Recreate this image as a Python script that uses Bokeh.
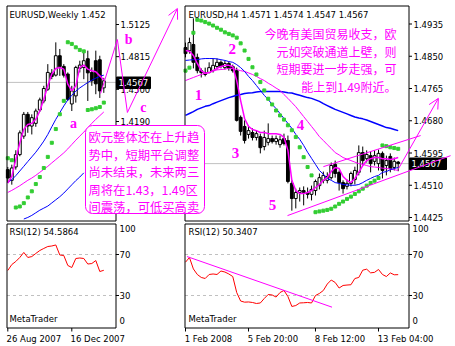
from bokeh.plotting import figure
from bokeh.models import Range1d, Arrow, OpenHead
from bokeh.core.properties import value
from bokeh.embed import file_html
from bokeh.resources import INLINE

W, H = 455, 346

# ------------------------------------------------------------------ data
last_price = 1.4567

# weekly EURUSD (26 Aug 2007 .. 10 Feb 2008)
wk_tick_idx = [0, 16]
wk_tick_labels = ["26 Aug 2007", "16 Dec 2007"]
wk_open = [1.3726, 1.3623, 1.3752, 1.3871, 1.4049, 1.4259, 1.4146, 1.4172, 1.4301, 1.4388,
           1.4501, 1.4656, 1.4637, 1.4824, 1.4721, 1.4647, 1.4359, 1.4437, 1.4702, 1.4711,
           1.4795, 1.4663, 1.4776, 1.4785, 1.4514]
wk_high = [1.3752, 1.3774, 1.3913, 1.4104, 1.4282, 1.4282, 1.4259, 1.4314, 1.4420, 1.4534,
           1.4743, 1.4695, 1.4953, 1.4889, 1.4743, 1.4663, 1.4534, 1.4727, 1.4776, 1.4857,
           1.4873, 1.4711, 1.4873, 1.4824, 1.4611]
wk_low = [1.3597, 1.3581, 1.3726, 1.3855, 1.4023, 1.4081, 1.4065, 1.4139, 1.4282, 1.4366,
          1.4485, 1.4598, 1.4624, 1.4630, 1.4614, 1.4388, 1.4291, 1.4372, 1.4663, 1.4598,
          1.4388, 1.4534, 1.4453, 1.4417, 1.4466]
wk_close = [1.3645, 1.3742, 1.3871, 1.4081, 1.4259, 1.4146, 1.4227, 1.4291, 1.4398, 1.4508,
            1.4663, 1.4624, 1.4824, 1.4721, 1.4637, 1.4404, 1.4485, 1.4711, 1.4734, 1.4776,
            1.4659, 1.4582, 1.4553, 1.4485, 1.4582]
wk_ma_fast = [1.3597, 1.3661, 1.3823, 1.3984, 1.4114, 1.4162, 1.4172, 1.4211, 1.4291, 1.4404,
              1.4534, 1.4647, 1.4701, 1.4711, 1.4695, 1.4550, 1.4485, 1.4534, 1.4711, 1.4734,
              1.4695, 1.4679, 1.4669, 1.4630, 1.4590]
wk_ma_mid = [1.3603, 1.3629, 1.3668, 1.3713, 1.3758, 1.3804, 1.3849, 1.3894, 1.3946, 1.4001,
             1.4065, 1.4139, 1.4211, 1.4275, 1.4340, 1.4398, 1.4443, 1.4482, 1.4514, 1.4540,
             1.4566, 1.4588, 1.4608, 1.4624, 1.4637]
wk_ma_slow = [1.3506, 1.3526, 1.3548, 1.3571, 1.3597, 1.3623, 1.3645, 1.3671, 1.3700, 1.3729,
              1.3758, 1.3791, 1.3823, 1.3855, 1.3888, 1.3926, 1.3968, 1.4010, 1.4049, 1.4088,
              1.4130, 1.4172, 1.4211, 1.4246, 1.4282]
wk_ma_long_idx = [4, 5, 6, 7, 8, 9, 10, 11, 12, 13, 14, 15, 16, 17, 18, 19]
wk_ma_long = [1.3250, 1.3265, 1.3285, 1.3310, 1.3335, 1.3355, 1.3375, 1.3405, 1.3435, 1.3465,
              1.3500, 1.3540, 1.3580, 1.3620, 1.3655, 1.3695]
wk_sar = [1.3836, 1.3817, 1.3361, 1.3371, 1.3403, 1.3458, 1.3517, 1.3587, 1.3655, 1.3742,
          1.3849, 1.3985, 1.4117, 1.4260, 1.4389, 1.4954, 1.4938, 1.4905, 1.4880, 1.4866,
          1.4301, 1.4308, 1.4318, 1.4330, 1.4372]
wk_rsi = [54.4, 60.2, 63.2, 67.1, 72.0, 67.1, 68.0, 71.0, 73.9, 75.9,
          77.8, 78.3, 79.3, 69.5, 69.0, 59.3, 57.3, 66.1, 66.6, 66.1,
          60.7, 61.2, 64.1, 53.4, 54.59]
wk_price_ticks = [1.5125, 1.4815, 1.4500, 1.4190]
wk_price_labels = ["1.5125", "1.4815", "1.4500", "1.4190"]

# H4 EURUSD (1 Feb 2008 .. 13 Feb 2008)
h4_tick_idx = [0, 16, 33, 49]
h4_tick_labels = ["1 Feb 2008", "5 Feb 20:00", "8 Feb 12:00", "13 Feb 04:00"]
h4_open = [1.4873, 1.4865, 1.4881, 1.4847, 1.4812, 1.4807, 1.4807, 1.4812, 1.4823, 1.4834,
           1.4820, 1.4831, 1.4823, 1.4812, 1.4689, 1.4665, 1.4644, 1.4649, 1.4636, 1.4638,
           1.4612, 1.4623, 1.4633, 1.4625, 1.4617, 1.4633, 1.4628, 1.4515, 1.4475, 1.4491,
           1.4496, 1.4491, 1.4486, 1.4496, 1.4509, 1.4523, 1.4523, 1.4530, 1.4565, 1.4544,
           1.4517, 1.4507, 1.4515, 1.4525, 1.4544, 1.4596, 1.4580, 1.4588, 1.4573, 1.4567,
           1.4594, 1.4562, 1.4586, 1.4557, 1.4571]
h4_high = [1.4886, 1.4899, 1.4950, 1.4857, 1.4818, 1.4820, 1.4834, 1.4844, 1.4844, 1.4839,
           1.4839, 1.4836, 1.4828, 1.4820, 1.4694, 1.4681, 1.4667, 1.4660, 1.4654, 1.4646,
           1.4654, 1.4673, 1.4641, 1.4641, 1.4641, 1.4646, 1.4641, 1.4523, 1.4501, 1.4504,
           1.4507, 1.4504, 1.4509, 1.4525, 1.4541, 1.4546, 1.4544, 1.4570, 1.4575, 1.4549,
           1.4523, 1.4525, 1.4546, 1.4559, 1.4615, 1.4612, 1.4602, 1.4599, 1.4602, 1.4604,
           1.4599, 1.4588, 1.4594, 1.4583, 1.4574]
h4_low = [1.4847, 1.4857, 1.4818, 1.4805, 1.4794, 1.4797, 1.4805, 1.4807, 1.4815, 1.4818,
          1.4815, 1.4812, 1.4807, 1.4678, 1.4641, 1.4620, 1.4633, 1.4628, 1.4628, 1.4594,
          1.4602, 1.4615, 1.4620, 1.4617, 1.4609, 1.4615, 1.4515, 1.4443, 1.4449, 1.4467,
          1.4457, 1.4475, 1.4470, 1.4483, 1.4499, 1.4515, 1.4515, 1.4525, 1.4530, 1.4496,
          1.4488, 1.4499, 1.4507, 1.4512, 1.4536, 1.4562, 1.4570, 1.4544, 1.4562, 1.4549,
          1.4528, 1.4536, 1.4544, 1.4549, 1.4547]
h4_close = [1.4857, 1.4886, 1.4834, 1.4812, 1.4807, 1.4802, 1.4820, 1.4826, 1.4834, 1.4823,
            1.4831, 1.4818, 1.4812, 1.4681, 1.4652, 1.4628, 1.4654, 1.4636, 1.4646, 1.4609,
            1.4636, 1.4633, 1.4625, 1.4633, 1.4630, 1.4620, 1.4520, 1.4475, 1.4491, 1.4496,
            1.4491, 1.4486, 1.4499, 1.4520, 1.4530, 1.4536, 1.4533, 1.4562, 1.4541, 1.4517,
            1.4501, 1.4515, 1.4541, 1.4549, 1.4596, 1.4575, 1.4591, 1.4567, 1.4588, 1.4594,
            1.4549, 1.4575, 1.4554, 1.4573, 1.4567]
h4_ma_fast = [1.4865, 1.4863, 1.4852, 1.4831, 1.4812, 1.4805, 1.4807, 1.4812, 1.4818, 1.4823,
              1.4826, 1.4826, 1.4823, 1.4786, 1.4733, 1.4686, 1.4665, 1.4657, 1.4654, 1.4649,
              1.4649, 1.4646, 1.4646, 1.4646, 1.4644, 1.4636, 1.4602, 1.4523, 1.4496, 1.4488,
              1.4488, 1.4491, 1.4496, 1.4504, 1.4512, 1.4523, 1.4531, 1.4546, 1.4557, 1.4554,
              1.4533, 1.4523, 1.4517, 1.4528, 1.4544, 1.4562, 1.4575, 1.4580, 1.4583, 1.4583,
              1.4580, 1.4580, 1.4578, 1.4580, 1.4583]
h4_ma_mid = [1.4839, 1.4840, 1.4841, 1.4841, 1.4843, 1.4844, 1.4844, 1.4844, 1.4843, 1.4841,
             1.4839, 1.4836, 1.4834, 1.4828, 1.4820, 1.4810, 1.4797, 1.4786, 1.4773, 1.4760,
             1.4747, 1.4736, 1.4723, 1.4712, 1.4699, 1.4686, 1.4673, 1.4660, 1.4644, 1.4631,
             1.4615, 1.4597, 1.4581, 1.4565, 1.4549, 1.4539, 1.4528, 1.4523, 1.4517, 1.4515,
             1.4512, 1.4511, 1.4510, 1.4510, 1.4512, 1.4517, 1.4523, 1.4528, 1.4533, 1.4536,
             1.4544, 1.4546, 1.4551, 1.4554, 1.4557]
h4_ma_long = [1.4694, 1.4699, 1.4704, 1.4710, 1.4714, 1.4718, 1.4720, 1.4725, 1.4729, 1.4733,
              1.4737, 1.4741, 1.4744, 1.4747, 1.4749, 1.4752, 1.4753, 1.4754, 1.4756, 1.4757,
              1.4757, 1.4757, 1.4757, 1.4757, 1.4757, 1.4756, 1.4754, 1.4753, 1.4750, 1.4747,
              1.4744, 1.4741, 1.4739, 1.4735, 1.4731, 1.4725, 1.4720, 1.4715, 1.4710, 1.4706,
              1.4702, 1.4698, 1.4694, 1.4690, 1.4687, 1.4685, 1.4682, 1.4678, 1.4674, 1.4670,
              1.4666, 1.4662, 1.4660, 1.4657, 1.4654]
h4_ma_slow = [1.4786, 1.4790, 1.4794, 1.4798, 1.4802, 1.4805, 1.4807, 1.4811, 1.4814, 1.4815,
              1.4816, 1.4818, 1.4818, 1.4815, 1.4812, 1.4810, 1.4806, 1.4802, 1.4797, 1.4791,
              1.4786, 1.4779, 1.4773, 1.4766, 1.4760, 1.4749, 1.4739, 1.4728, 1.4717, 1.4704,
              1.4691, 1.4678, 1.4665, 1.4652, 1.4638, 1.4628, 1.4617, 1.4607, 1.4596, 1.4590,
              1.4583, 1.4579, 1.4575, 1.4571, 1.4567, 1.4565, 1.4562, 1.4559, 1.4558, 1.4557,
              1.4555, 1.4554, 1.4553, 1.4551, 1.4549]
h4_sar = [1.4812, 1.4820, 1.4912, 1.4946, 1.4944, 1.4940, 1.4936, 1.4931, 1.4925, 1.4920,
          1.4913, 1.4909, 1.4905, 1.4899, 1.4884, 1.4865, 1.4843, 1.4821, 1.4802, 1.4782,
          1.4760, 1.4738, 1.4723, 1.4707, 1.4694, 1.4683, 1.4668, 1.4655, 1.4637, 1.4610,
          1.4584, 1.4558, 1.4536, 1.4439, 1.4441, 1.4443, 1.4445, 1.4448, 1.4454, 1.4461,
          1.4467, 1.4474, 1.4480, 1.4487, 1.4494, 1.4501, 1.4509, 1.4516, 1.4522, 1.4529,
          1.4615, 1.4613, 1.4610, 1.4608, 1.4606]
h4_rsi = [62.5, 67.1, 55.9, 50.5, 47.6, 46.6, 50.5, 51.0, 50.5, 53.9,
          52.9, 51.0, 48.5, 32.9, 24.6, 23.5, 23.7, 23.2, 22.2, 22.7,
          27.1, 31.0, 30.5, 28.5, 32.9, 34.9, 29.0, 19.3, 20.2, 22.7,
          22.9, 23.2, 22.7, 30.0, 32.0, 34.9, 41.2, 45.1, 42.7, 37.3,
          39.8, 40.2, 40.5, 46.6, 47.6, 54.7, 55.7, 52.1, 52.6, 55.4,
          50.5, 48.5, 52.0, 50.2, 50.34]
h4_price_ticks = [1.4935, 1.4850, 1.4765, 1.4680, 1.4595, 1.4510, 1.4425]
h4_price_labels = ["1.4935", "1.4850", "1.4765", "1.4680", "1.4595", "1.4510", "1.4425"]

rsi_ticks = [100, 70, 30, 0]
rsi_tick_labels = ["100", "70", "30", "0"]
rsi_levels = [70, 30]

# hand-drawn annotations (bar index, price)
wk_zig_x = [23.2, 27.4, 29.9]
wk_zig_y = [1.4460, 1.4980, 1.4277]
wk_zig_tip = (42.4, 1.5279)
wk_letters = ["a", "b", "c"]
wk_letters_x = [16.4, 30.2, 33.9]
wk_letters_y = [1.4171, 1.4980, 1.4325]
h4_chan_low_x = [25.9, 67.3]
h4_chan_low_y = [1.4430, 1.4588]
h4_chan_up_x = [35.0, 59.7]
h4_chan_up_y = [1.4559, 1.4641]
h4_arrow = (54.1, 1.4554, 64.2, 1.4739)
h4_waves = ["1", "2", "3", "4", "5"]
h4_waves_x = [3.3, 11.9, 12.7, 29.2, 22.1]
h4_waves_y = [1.4747, 1.4870, 1.4596, 1.4668, 1.4457]

note_left = ["欧元整体还在上升趋", "势中，短期平台调整", "尚未结束，未来两三",
             "周将在1.43，1.49区", "间震荡，可低买高卖"]
note_right = ["今晚有美国贸易收支，欧", "元如突破通道上壁，则",
              "短期要进一步走强，可", "能上到1.49附近。"]

# ------------------------------------------------------------------ layout helpers
def lin(v1, q1, v2, q2):
    k = (v2 - v1) / (q2 - q1)
    return lambda q: v1 + (q - q1) * k

LX = lin(0, 7.3, 16, 71.3)          # weekly bar index at pixel column
LY = lin(1.5125, 24, 1.4190, 121)   # weekly price at pixel row
RX = lin(0, 185, 49, 378)           # H4 bar index at pixel column
RY = lin(1.4935, 23.5, 1.4425, 217) # H4 price at pixel row
RS = lin(70, 254, 30, 295)          # RSI value at pixel row

MAG = "#FF00FF"
BLUE = "#0000FF"
GREEN = "#32CD32"
RED = "#FF0000"
GRAY = "#C0C0C0"
LAT = "DejaVu Sans"
CJK = "Noto Sans CJK SC"
SER = "Liberation Serif"

p = figure(width=W, height=H, x_range=Range1d(0, 1), y_range=Range1d(0, 1),
           output_backend="svg", toolbar_location=None, min_border=0,
           x_axis_location=None, y_axis_location=None, title=None)
p.extra_x_ranges = {"lx": Range1d(LX(0), LX(W)), "rx": Range1d(RX(0), RX(W))}
p.extra_y_ranges = {"ly": Range1d(LY(H), LY(0)), "ry": Range1d(RY(H), RY(0)),
                    "rs": Range1d(RS(H), RS(0))}
p.grid.visible = False
p.outline_line_color = None
p.background_fill_color = "white"
p.border_fill_color = "white"

L = dict(x_range_name="lx", y_range_name="ly")
R = dict(x_range_name="rx", y_range_name="ry")
LR = dict(x_range_name="lx", y_range_name="rs")
RR = dict(x_range_name="rx", y_range_name="rs")


def txt(xs, ys, texts, rng, size="8.5px", font=LAT, color="black", align="left",
        style="normal"):
    return p.text(x=xs, y=ys, text=texts, text_font=value(font), text_font_size=size,
                  text_color=color, text_align=align, text_baseline="middle",
                  text_font_style=style, **rng)


# ------------------------------------------------------------------ panels geometry
LPx = (LX(6.5), LX(115.5))
RPx = (RX(184.5), RX(408.5))

# current price lines
p.segment(x0=[LPx[0]], x1=[LPx[1]], y0=[last_price], y1=[last_price], line_color=GRAY, **L)
p.segment(x0=[RPx[0]], x1=[RPx[1]], y0=[last_price], y1=[last_price], line_color=GRAY, **R)

# RSI level lines
for xr, rng in ((LPx, LR), (RPx, RR)):
    p.segment(x0=[xr[0]] * 2, x1=[xr[1]] * 2, y0=rsi_levels, y1=rsi_levels,
              line_color=GRAY, line_dash="3 3", **rng)


def candles(xs, o, h, l, c, rng, width):
    p.segment(x0=xs, x1=xs, y0=l, y1=h, line_color="black", line_width=1, **rng)
    tops = [max(a, b) for a, b in zip(o, c)]
    bots = [min(a, b) for a, b in zip(o, c)]
    fills = ["white" if b >= a else "black" for a, b in zip(o, c)]
    p.vbar(x=xs, width=width, top=tops, bottom=bots, fill_color=fills,
           line_color="black", line_width=1, **rng)


# weekly panel
wk_x = list(range(len(wk_open)))
candles(wk_x, wk_open, wk_high, wk_low, wk_close, L, 0.72)
p.line(wk_ma_long_idx, wk_ma_long, line_color=BLUE, line_width=1, **L)
p.line(wk_x, wk_ma_slow, line_color=MAG, line_width=1, **L)
p.line(wk_x, wk_ma_mid, line_color=BLUE, line_width=1, **L)
p.line(wk_x, wk_ma_fast, line_color=MAG, line_width=1.5, **L)
p.scatter(wk_x, wk_sar, marker="square", size=3, fill_color=GREEN, line_color=GREEN, **L)

# H4 panel
h4_x = list(range(len(h4_open)))
candles(h4_x, h4_open, h4_high, h4_low, h4_close, R, 0.72)
p.line(h4_x, h4_ma_long, line_color=BLUE, line_width=1.5, **R)
p.line(h4_x, h4_ma_slow, line_color=MAG, line_width=1, **R)
p.line(h4_x, h4_ma_mid, line_color=BLUE, line_width=1, **R)
p.line(h4_x, h4_ma_fast, line_color=MAG, line_width=1.5, **R)
p.scatter(h4_x, h4_sar, marker="square", size=3, fill_color=GREEN, line_color=GREEN, **R)

# RSI lines
p.line(wk_x, wk_rsi, line_color=RED, line_width=1, **LR)
p.line(h4_x, h4_rsi, line_color=RED, line_width=1, **RR)
p.line([0.4, 37.2], [68.0, 18.6], line_color=MAG, line_width=1, **RR)

# panel borders
p.quad(left=[LPx[0]], right=[LPx[1]], top=[LY(5.5)], bottom=[LY(220.5)],
       fill_color=None, line_color="black", **L)
p.quad(left=[RPx[0]], right=[RPx[1]], top=[RY(5.5)], bottom=[RY(220.5)],
       fill_color=None, line_color="black", **R)
p.quad(left=[LPx[0]], right=[LPx[1]], top=[RS(223.5)], bottom=[RS(327.5)],
       fill_color=None, line_color="black", **LR)
p.quad(left=[RPx[0]], right=[RPx[1]], top=[RS(223.5)], bottom=[RS(327.5)],
       fill_color=None, line_color="black", **RR)

# price axes
p.segment(x0=[LPx[1]] * 4, x1=[LX(118.5)] * 4, y0=wk_price_ticks, y1=wk_price_ticks,
          line_color="black", **L)
txt([LX(120)] * 4, wk_price_ticks, wk_price_labels, L)
p.segment(x0=[RPx[1]] * 7, x1=[RX(411.5)] * 7, y0=h4_price_ticks, y1=h4_price_ticks,
          line_color="black", **R)
txt([RX(413)] * 7, h4_price_ticks, h4_price_labels, R)

# RSI axes
rsi_lab_y = [RS(228), 70, 30, RS(320)]
txt([LX(119)] * 4, rsi_lab_y, rsi_tick_labels, LR)
txt([RX(412)] * 4, rsi_lab_y, rsi_tick_labels, RR)
p.segment(x0=[LPx[1]] * 2, x1=[LX(118.5)] * 2, y0=rsi_levels, y1=rsi_levels, line_color="black", **LR)
p.segment(x0=[RPx[1]] * 2, x1=[RX(411.5)] * 2, y0=rsi_levels, y1=rsi_levels, line_color="black", **RR)

# date axes
p.segment(x0=wk_tick_idx, x1=wk_tick_idx, y0=[RS(327.5)] * 2, y1=[RS(331)] * 2, line_color="black", **LR)
txt([t - 0.3 for t in wk_tick_idx], [RS(338)] * 2, wk_tick_labels, LR)
p.segment(x0=h4_tick_idx, x1=h4_tick_idx, y0=[RS(327.5)] * 4, y1=[RS(331)] * 4, line_color="black", **RR)
txt([t - 0.2 for t in h4_tick_idx], [RS(338)] * 4, h4_tick_labels, RR)

# titles
txt([LX(9)], [LY(14)], ["EURUSD,Weekly  1.452"], L)
txt([RX(188)], [RY(14)], ["EURUSD,H4  1.4571 1.4574 1.4547 1.4567"], R)
txt([LX(9)], [RS(231)], ["RSI(12) 54.5864"], LR)
txt([RX(188)], [RS(231)], ["RSI(12) 50.3407"], RR)
txt([LX(9)], [RS(318)], ["MetaTrader"], LR)
txt([RX(188)], [RS(318)], ["MetaTrader"], RR)

# current price tags
p.quad(left=[LX(116)], right=[LX(150)], top=[LY(76.5)], bottom=[LY(88)],
       fill_color="black", line_color="black", **L)
txt([LX(118)], [last_price], ["1.4567"], L, color="white")
p.quad(left=[RX(409)], right=[RX(446)], top=[RY(157.5)], bottom=[RY(169)],
       fill_color="black", line_color="black", **R)
txt([RX(411)], [last_price], ["1.4567"], R, color="white")

# hand-drawn annotations
p.line(wk_zig_x, wk_zig_y, line_color=MAG, line_width=1, **L)
p.add_layout(Arrow(end=OpenHead(size=10, line_color=MAG, line_width=1),
                   x_start=wk_zig_x[-1], y_start=wk_zig_y[-1],
                   x_end=wk_zig_tip[0], y_end=wk_zig_tip[1],
                   line_color=MAG, line_width=1, **L))
txt(wk_letters_x, wk_letters_y, wk_letters, L, size="14px", font=SER, color=MAG,
    align="center", style="bold")

p.line(h4_chan_low_x, h4_chan_low_y, line_color=MAG, line_width=1, **R)
p.line(h4_chan_up_x, h4_chan_up_y, line_color=MAG, line_width=1, **R)
p.add_layout(Arrow(end=OpenHead(size=10, line_color=MAG, line_width=1),
                   x_start=h4_arrow[0], y_start=h4_arrow[1],
                   x_end=h4_arrow[2], y_end=h4_arrow[3],
                   line_color=MAG, line_width=1, **R))
txt(h4_waves_x, h4_waves_y, h4_waves, R, size="15px", font=SER, color=MAG,
    align="center", style="bold")

# text notes
p.quad(left=[LX(85)], right=[LX(204)], top=[LY(125)], bottom=[LY(213)],
       fill_color="white", line_color=MAG, line_width=1, border_radius=7, **L)
txt([LX(88)] * 5, [LY(136), LY(154), LY(171.5), LY(189), LY(206)], note_left, L,
    size="12.3px", font=CJK, color=MAG)
txt([RX(396)] * 4, [RY(33), RY(50.5), RY(68), RY(86)], note_right, R,
    size="12px", font=CJK, color=MAG, align="right")

open("out.html", "w").write(file_html(p, INLINE))
